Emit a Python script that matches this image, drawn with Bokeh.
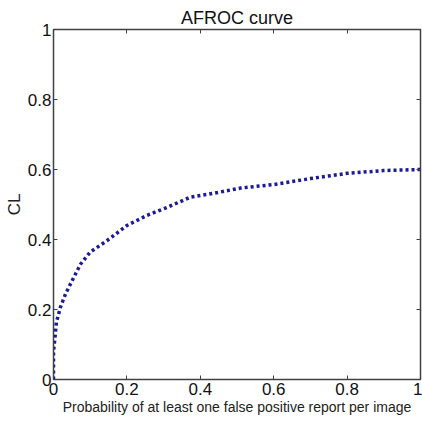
from bokeh.plotting import figure
from bokeh.models import LinearAxis, Range1d, FixedTicker, Title
from bokeh.embed import file_html
from bokeh.resources import INLINE

fpf = [0.0, 0.0, 0.004, 0.008, 0.019, 0.033, 0.051, 0.074, 0.1, 0.146, 0.2, 0.255,
       0.31, 0.373, 0.436, 0.51, 0.6, 0.7, 0.8, 0.9, 1.0]
cl = [0.0, 0.08, 0.12, 0.164, 0.207, 0.245, 0.283, 0.33, 0.364, 0.397, 0.44, 0.469,
      0.492, 0.521, 0.532, 0.547, 0.557, 0.574, 0.589, 0.597, 0.6]
ticks = [0, 0.2, 0.4, 0.6, 0.8, 1]
tick_labels = {0: "0", 0.2: "0.2", 0.4: "0.4", 0.6: "0.6", 0.8: "0.8", 1: "1"}

FONT = "Liberation Sans"
AX = "#404040"

p = figure(width=422, height=423, output_backend="svg", toolbar_location=None,
           x_range=Range1d(0, 1), y_range=Range1d(0, 1),
           min_border_left=53, min_border_right=2, min_border_top=29, min_border_bottom=44)
p.grid.visible = False
p.outline_line_color = AX
p.outline_line_width = 1.5
p.background_fill_color = "white"
p.border_fill_color = "white"

for ax in (p.xaxis[0], p.yaxis[0]):
    ax.ticker = FixedTicker(ticks=ticks)
    ax.major_label_overrides = tick_labels
    ax.major_tick_in = 4
    ax.major_tick_out = 0
    ax.minor_tick_in = 0
    ax.minor_tick_out = 0
    ax.axis_line_color = AX
    ax.major_tick_line_color = AX
    ax.major_label_text_font = FONT
    ax.major_label_text_font_size = "17px"
    ax.major_label_text_color = "#111111"
    ax.axis_label_text_font = FONT
    ax.axis_label_text_font_style = "normal"
    ax.axis_label_text_color = "#222222"

p.xaxis[0].axis_label = "Probability of at least one false positive report per image"
p.xaxis[0].axis_label_text_font_size = "14px"
p.xaxis[0].major_label_standoff = 3
p.xaxis[0].axis_label_standoff = 1
p.yaxis[0].axis_label = "CL"
p.yaxis[0].axis_label_text_font_size = "17px"
p.yaxis[0].major_label_standoff = 2
p.yaxis[0].axis_label_standoff = 1

blank = {t: "" for t in ticks}
top = LinearAxis(ticker=FixedTicker(ticks=ticks), major_label_overrides=blank,
                 major_tick_in=4, major_tick_out=0, minor_tick_in=0, minor_tick_out=0,
                 major_label_standoff=0, axis_line_color=AX, major_tick_line_color=AX)
right = LinearAxis(ticker=FixedTicker(ticks=ticks), major_label_overrides=blank,
                   major_tick_in=4, major_tick_out=0, minor_tick_in=0, minor_tick_out=0,
                   major_label_standoff=0, axis_line_color=AX, major_tick_line_color=AX)
p.add_layout(top, "above")
p.add_layout(right, "right")

t = Title(text="AFROC curve", align="center", vertical_align="top", text_font=FONT,
          text_font_size="18px", text_font_style="normal", text_color="#111111",
          standoff=0, text_line_height=0.9)
p.add_layout(t, "above")

p.line(fpf, cl, line_color="#1a1a9a", line_width=3.5, line_dash="3 3")

open("out.html", "w").write(file_html(p, INLINE))
